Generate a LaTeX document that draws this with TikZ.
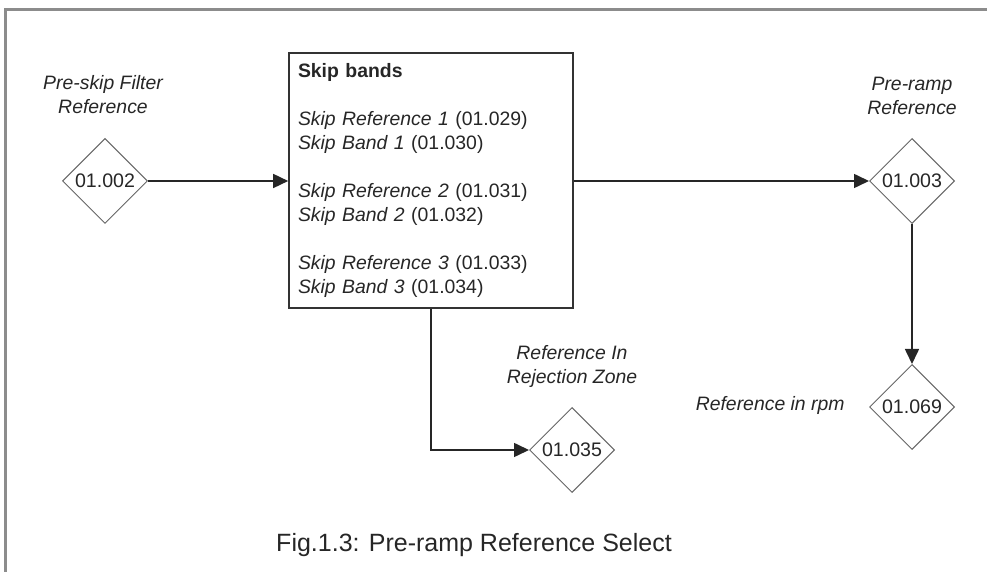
\documentclass[tikz,border=0pt]{standalone}
\usepackage{fontspec}
\setmainfont{Liberation Sans}
\usetikzlibrary{shapes.geometric, arrows.meta}

\tikzset{
  param/.style={diamond, draw=black!60, line width=0.5pt, minimum width=42.5pt, minimum height=42.5pt, inner sep=0pt, text=black!85, font=\fontsize{9.8pt}{12pt}\selectfont},
  skipbox/.style={rectangle, draw=black!80, line width=0.8pt, minimum width=142pt, minimum height=127.5pt, text width=133pt, inner xsep=4.5pt, align=left, text=black!85, font=\fontsize{9.7pt}{12pt}\selectfont},
  tag/.style={align=center, inner sep=0pt, text=black!85, font=\fontsize{9.7pt}{12pt}\selectfont\itshape},
  flow/.style={-{Triangle[length=7.5pt, width=7pt]}, line width=0.8pt, draw=black!85},
  frame/.style={draw=black!45, line width=1.5pt}
}

\begin{document}
\begin{tikzpicture}[x=0.5pt, y=-0.5pt]
    \useasboundingbox (0,0) rectangle (987,572);
    \draw[frame] (5,572) -- (5,10) -- (987,10);

    % parameters
    \node[param] (d002) at (105,181) {01.002};
    \node[param] (d003) at (912,181) {01.003};
    \node[param] (d069) at (912,407) {01.069};
    \node[param] (d035) at (572,450) {01.035};

    \node[skipbox] (skip) at (431,180.5) {\textbf{Skip bands}\\[12pt]
      \textit{Skip Reference 1} (01.029)\\
      \textit{Skip Band 1} (01.030)\\[12pt]
      \textit{Skip Reference 2} (01.031)\\
      \textit{Skip Band 2} (01.032)\\[12pt]
      \textit{Skip Reference 3} (01.033)\\
      \textit{Skip Band 3} (01.034)};

    % names
    \node[tag] (t002) at (103,94.5) {Pre-skip Filter\\Reference};
    \node[tag] (t003) at (912,96) {Pre-ramp\\Reference};
    \node[tag] (t035) at (572,366) {Reference In\\Rejection Zone};
    \node[tag, anchor=east] (t069) at (845,405) {Reference in rpm};

    \draw[flow] (d002.east) -- (d002.east -| skip.west);
    \draw[flow] (skip.east |- d003.west) -- (d003.west);
    \draw[flow] (d003.south) -- (d069.north);
    \draw[flow] (skip.south) -- (skip.south |- d035.west) -- (d035.west);

    \node[text=black!85, font=\fontsize{12.5pt}{15pt}\selectfont] (caption) at (474,545) {Fig.1.3: Pre-ramp Reference Select};
\end{tikzpicture}
\end{document}
